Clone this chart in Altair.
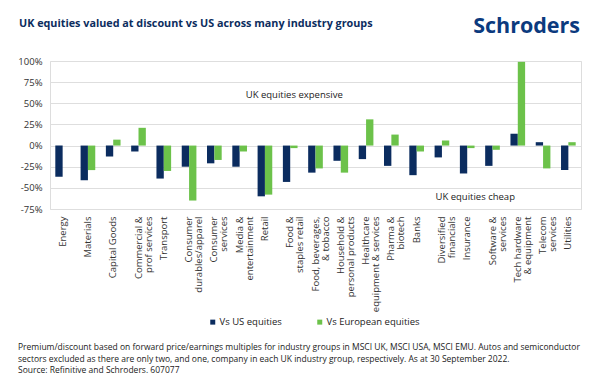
import altair as alt
import pandas as pd

categories = [
    "Energy", "Materials", "Capital Goods", "Commercial &\nprof services", "Transport",
    "Consumer\ndurables/apparel", "Consumer\nservices", "Media &\nentertainment", "Retail",
    "Food &\nstaples retail", "Food, beverages,\n& tobacco", "Household &\npersonal products",
    "Healthcare\nequipment & services", "Pharma &\nbiotech", "Banks", "Diversified\nfinancials",
    "Insurance", "Software &\nservices", "Tech hardware\n& equipment", "Telecom\nservices", "Utilities",
]
vs_us = [-37, -41, -13, -7, -39, -25, -21, -25, -60, -43, -32, -18, -16, -24, -35, -14, -33, -24, 14, 4, -29]
vs_eu = [0, -29, 7, 21, -30, -65, -17, -7, -58, -3, -27, -32, 31, 13, -7, 6, -3, -5, 99, -27, 4]
series = ["Vs US equities", "Vs European equities"]
colors = ["#0b2c5f", "#6cc24a"]
y_ticks = [-75, -50, -25, 0, 25, 50, 75, 100]

title_text = "UK equities valued at discount vs US across many industry groups"
logo_text = "Schroders"
notes = [
    "Premium/discount based on forward price/earnings multiples for industry groups in MSCI UK, MSCI USA, MSCI EMU. Autos and semiconductor",
    "sectors excluded as there are only two, and one, company in each UK industry group, respectively. As at 30 September 2022.",
    "Source: Refinitive and Schroders. 607077",
]
annotations = [
    {"cat": "Food &\nstaples retail", "v": 60, "t": "UK equities expensive", "dx": 4},
    {"cat": "Insurance", "v": -61, "t": "UK equities cheap", "dx": 8},
]

rows = []
for c, a, b in zip(categories, vs_us, vs_eu):
    rows.append({"cat": c, "series": series[0], "v": a})
    rows.append({"cat": c, "series": series[1], "v": b})
df = pd.DataFrame(rows)

FONT = "Open Sans"
W, H = 531, 148

x_axis = alt.Axis(
    title=None, labelAngle=-90, domain=False, ticks=False, labelPadding=7,
    labelExpr="split(datum.label, '\\n')", labelFontSize=9.5, labelLineHeight=10,
    labelColor="#333333", labelFont=FONT, labelLimit=200, labelOverlap=False,
)
y_axis = alt.Axis(
    title=None, values=y_ticks, labelExpr="datum.value + '%'", domain=False, ticks=False,
    gridColor="#dedede", labelPadding=8, labelFontSize=9.5, labelColor="#333333", labelFont=FONT,
    labelOverlap=False, labelFlush=False,
)
x_scale = alt.Scale(paddingInner=0.42, paddingOuter=0.21)
y_scale = alt.Scale(domain=[-75, 100], nice=False)

bars = alt.Chart(df).mark_bar().encode(
    x=alt.X("cat:N", sort=categories, scale=x_scale, axis=x_axis),
    y=alt.Y("v:Q", scale=y_scale, axis=y_axis),
    xOffset=alt.XOffset("series:N", sort=series),
    color=alt.Color(
        "series:N", scale=alt.Scale(domain=series, range=colors),
        legend=alt.Legend(
            title=None, orient="none", legendX=158, legendY=256, direction="horizontal",
            symbolType="square", symbolSize=25, labelFontSize=9.5, labelFont=FONT,
            labelColor="#222222", columnPadding=33, symbolStrokeWidth=0, labelOffset=2,
        ),
    ),
)

ann_layers = []
for a in annotations:
    ann_layers.append(
        alt.Chart(pd.DataFrame([a])).mark_text(
            fontSize=9.5, font=FONT, color="#222222", align="center", baseline="middle", dx=a["dx"]
        ).encode(
            x=alt.X("cat:N", sort=categories, scale=x_scale, axis=x_axis),
            y=alt.Y("v:Q", scale=y_scale, axis=y_axis),
            text="t:N",
        )
    )

title = alt.Chart(pd.DataFrame({"t": [title_text]})).mark_text(
    fontSize=10.8, font=FONT, fontWeight="bold", color="#0c2d5e", align="left", baseline="middle"
).encode(x=alt.value(-31), y=alt.value(-37), text="t:N")

logo = alt.Chart(pd.DataFrame({"t": [logo_text]})).mark_text(
    fontSize=21.5, font=FONT, fontWeight="bold", color="#0b3a7e", align="right", baseline="middle"
).encode(x=alt.value(530), y=alt.value(-34), text="t:N")

note_layers = []
for i, n in enumerate(notes):
    note_layers.append(
        alt.Chart(pd.DataFrame({"t": [n]})).mark_text(
            fontSize=8.5, font=FONT, color="#222222", align="left", baseline="middle"
        ).encode(x=alt.value(-32), y=alt.value(286 + 11.5 * i), text="t:N")
    )

chart = alt.layer(bars, *ann_layers, title, logo, *note_layers).properties(
    width=W, height=H,
    autosize=alt.AutoSizeParams(type="none"),
    padding={"left": 42, "top": 53, "right": 11, "bottom": 165},
).configure_view(stroke=None).configure_axis(labelOverlap=False).configure(background="white")

chart.save("out.html", embed_options={"renderer": "svg", "actions": False})
